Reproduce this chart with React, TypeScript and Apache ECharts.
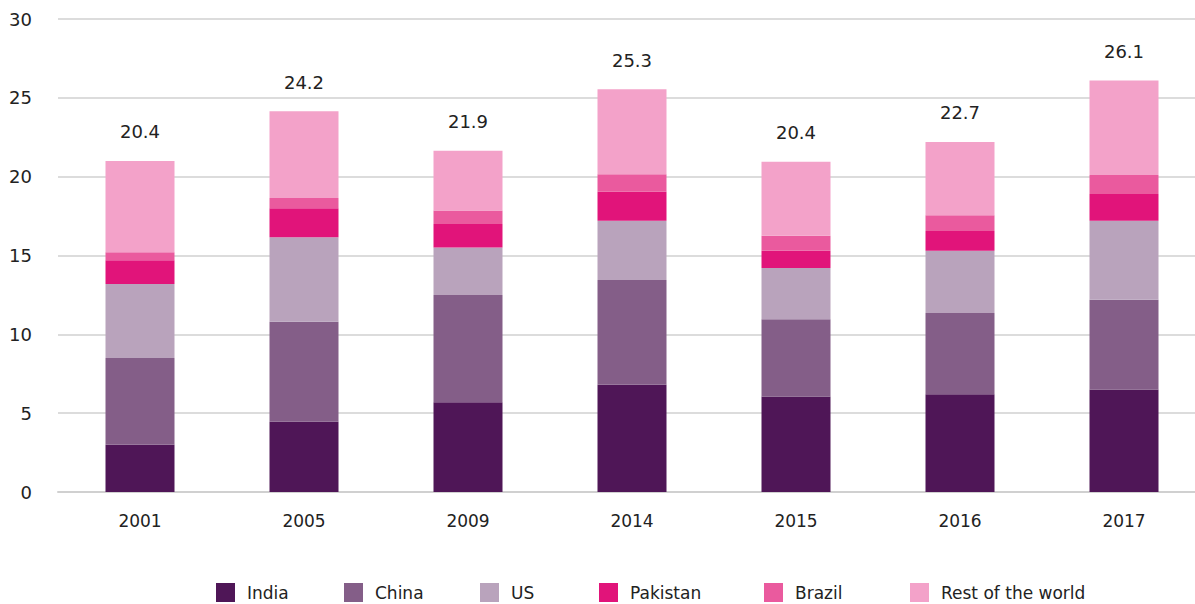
import React, { useEffect, useRef } from "react";
import * as echarts from "echarts";

const categories = ["2001", "2005", "2009", "2014", "2015", "2016", "2017"];
const india = [3.0, 4.45, 5.7, 6.8, 6.05, 6.2, 6.5];
const china = [5.5, 6.35, 6.8, 6.65, 4.9, 5.15, 5.7];
const us = [4.7, 5.35, 3.0, 3.75, 3.25, 3.95, 5.0];
const pakistan = [1.5, 1.85, 1.5, 1.85, 1.1, 1.25, 1.7];
const brazil = [0.5, 0.65, 0.85, 1.1, 0.95, 1.0, 1.2];
const rest = [5.8, 5.5, 3.8, 5.4, 4.7, 4.65, 6.0];
const totalLabels = ["20.4", "24.2", "21.9", "25.3", "20.4", "22.7", "26.1"];
const yTicks = [0, 5, 10, 15, 20, 25, 30];
const seriesNames = ["India", "China", "US", "Pakistan", "Brazil", "Rest of the world"];
const seriesColors = ["#4F1657", "#845E88", "#B9A3BC", "#E1147A", "#EA5A9E", "#F3A2C9"];
const legendLefts = [216, 344, 480, 599, 764, 910];

const FONT = "DejaVu Sans";

export default function App() {
  const ref = useRef<HTMLDivElement>(null);
  useEffect(() => {
    document.body.style.margin = "0";
    const chart = echarts.init(ref.current!, null, { renderer: "svg" });
    const values = [india, china, us, pakistan, brazil, rest];
    const series = seriesNames.map((name, i) => ({
      name,
      type: "bar",
      stack: "total",
      barWidth: 69,
      data: values[i],
      itemStyle: { color: seriesColors[i] },
      label:
        i === seriesNames.length - 1
          ? {
              show: true,
              position: "top",
              distance: 20,
              color: "#222",
              fontSize: 18,
              fontFamily: FONT,
              formatter: (p: any) => totalLabels[p.dataIndex],
            }
          : { show: false },
    }));
    const legends = seriesNames.map((name, i) => ({
      left: legendLefts[i],
      top: 583,
      padding: 0,
      itemWidth: 19,
      itemHeight: 19,
      icon: "rect",
      textStyle: { color: "#222", fontSize: 17, fontFamily: FONT, padding: [0, 0, 0, 7] },
      data: [name],
    }));
    chart.setOption({
      animation: false,
      textStyle: { fontFamily: FONT },
      grid: { left: 58, right: 0, top: 19, bottom: 112, containLabel: false },
      legend: legends,
      xAxis: {
        type: "category",
        data: categories,
        axisLine: { show: true, lineStyle: { color: "#d0d0d0", width: 2 } },
        axisTick: { show: false },
        axisLabel: { color: "#222", fontSize: 17, margin: 20, fontFamily: FONT },
      },
      yAxis: {
        type: "value",
        min: yTicks[0],
        max: yTicks[yTicks.length - 1],
        interval: 5,
        axisLine: { show: false },
        axisTick: { show: false },
        splitLine: { lineStyle: { color: "#d0d0d0", width: 1.5 } },
        axisLabel: { color: "#222", fontSize: 18, margin: 26, fontFamily: FONT },
      },
      series,
    });
    return () => chart.dispose();
  }, []);
  return (
    <div style={{ width: 1195, height: 604, overflow: "hidden", position: "relative" }}>
      <div ref={ref} style={{ width: 1206, height: 604 }} />
    </div>
  );
}
